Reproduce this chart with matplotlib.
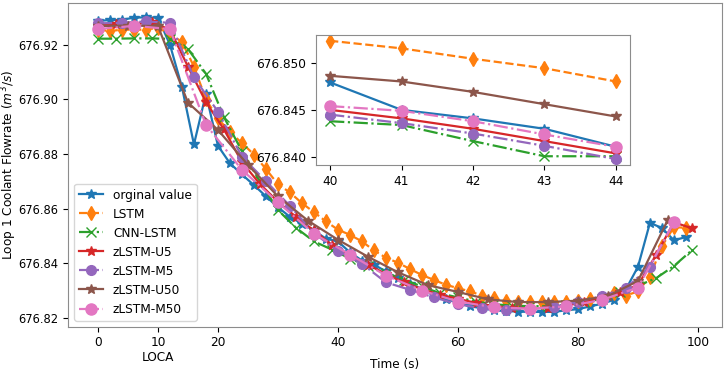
import matplotlib
matplotlib.use("Agg")
import matplotlib.pyplot as plt
from matplotlib.ticker import FormatStrFormatter

# --- main curves (each model sampled on its own time grid) ---
t_orig = list(range(0, 100, 2))
orig = [676.9287, 676.9290, 676.9291, 676.9299, 676.9300, 676.9299, 676.9200, 676.9045,
        676.8835, 676.9020, 676.8830, 676.8766, 676.8725, 676.8686, 676.8645, 676.8605,
        676.8570, 676.8545, 676.8520, 676.8490, 676.8480, 676.8440, 676.8410, 676.8395,
        676.8370, 676.8345, 676.8325, 676.8305, 676.8285, 676.8270, 676.8255, 676.8243,
        676.8235, 676.8228, 676.8225, 676.8223, 676.8222, 676.8222, 676.8222, 676.8228,
        676.8232, 676.8242, 676.8252, 676.8266, 676.8305, 676.8387, 676.8548, 676.8529,
        676.8484, 676.8496]

t_lstm = list(range(0, 100, 2))
lstm = [676.9255, 676.9250, 676.9255, 676.9255, 676.9255, 676.9262, 676.9240, 676.9210,
        676.9120, 676.9000, 676.8930, 676.8880, 676.8840, 676.8798, 676.8745, 676.8689,
        676.8659, 676.8620, 676.8587, 676.8553, 676.8523, 676.8504, 676.8480, 676.8447,
        676.8420, 676.8402, 676.8379, 676.8357, 676.8339, 676.8321, 676.8309, 676.8297,
        676.8282, 676.8272, 676.8263, 676.8260, 676.8258, 676.8258, 676.8260, 676.8260,
        676.8263, 676.8270, 676.8270, 676.8291, 676.8282, 676.8297, 676.8351, 676.8463,
        676.8532, 676.8530]

t_cnn = list(range(0, 100, 3))
cnn = [676.9222, 676.9222, 676.9223, 676.9223, 676.9221, 676.9184, 676.9094, 676.8935,
       676.8810, 676.8700, 676.8595, 676.8530, 676.8480, 676.8450, 676.8417, 676.8390,
       676.8365, 676.8340, 676.8315, 676.8290, 676.8275, 676.8260, 676.8250, 676.8245,
       676.8243, 676.8243, 676.8248, 676.8258, 676.8270, 676.8295, 676.8318, 676.8345,
       676.8390, 676.8448]

t_u5 = list(range(0, 100, 3))
u5 = [676.9270, 676.9275, 676.9275, 676.9282, 676.9255, 676.9120, 676.8990, 676.8890,
      676.8770, 676.8690, 676.8625, 676.8570, 676.8520, 676.8467, 676.8430, 676.8395,
      676.8360, 676.8330, 676.8305, 676.8285, 676.8270, 676.8255, 676.8243, 676.8237,
      676.8235, 676.8237, 676.8245, 676.8258, 676.8275, 676.8295, 676.8320, 676.8430,
      676.8550, 676.8528]

t_m5 = list(range(0, 100, 4))
m5 = [676.9278, 676.9280, 676.9285, 676.9280, 676.9080, 676.8955, 676.8790, 676.8700,
      676.8610, 676.8510, 676.8445, 676.8398, 676.8330, 676.8303, 676.8275, 676.8250,
      676.8235, 676.8230, 676.8233, 676.8240, 676.8260, 676.8280, 676.8310, 676.8387,
      676.8550]

t_u50 = list(range(0, 100, 5))
u50 = [676.9268, 676.9270, 676.9268, 676.8988, 676.8888, 676.8760, 676.8645, 676.8556,
       676.8486, 676.8424, 676.8367, 676.8320, 676.8295, 676.8268, 676.8258, 676.8258,
       676.8263, 676.8280, 676.8335, 676.8560]

t_m50 = list(range(0, 100, 6))
m50 = [676.9257, 676.9269, 676.9257, 676.8907, 676.8742, 676.8623, 676.8508, 676.8432,
       676.8355, 676.8300, 676.8260, 676.8239, 676.8234, 676.8242, 676.8266, 676.8311,
       676.8550]

# --- zoomed window 40..44 s ---
t_zoom = [40, 41, 42, 43, 44]
z_orig = [676.8479, 676.8450, 676.8441, 676.8430, 676.8411]
z_lstm = [676.8523, 676.8515, 676.8504, 676.8494, 676.8480]
z_cnn = [676.8438, 676.8434, 676.8417, 676.8401, 676.8401]
z_u5 = [676.8450, 676.8441, 676.8430, 676.8417, 676.8404]
z_m5 = [676.8445, 676.8436, 676.8425, 676.8412, 676.8398]
z_u50 = [676.8486, 676.8480, 676.8469, 676.8456, 676.8443]
z_m50 = [676.8454, 676.8449, 676.8438, 676.8424, 676.8411]

labels = ["orginal value", "LSTM", "CNN-LSTM", "zLSTM-U5", "zLSTM-M5", "zLSTM-U50", "zLSTM-M50"]
colors = ["#1f77b4", "#ff7f0e", "#2ca02c", "#d62728", "#9467bd", "#8c564b", "#e377c2"]
styles = ["-", "--", "-.", "-", "-.", "-", "-."]
markers = ["*", "d", "x", "*", "o", "*", "o"]
msizes = [7, 7, 7, 7, 7, 7, 8]

plt.rcParams["font.size"] = 8.7
SPINE = "#8c8c8c"

fig = plt.figure(figsize=(7.26, 3.75), dpi=100)
ax = fig.add_axes([0.094, 0.129, 0.900, 0.864])

main = [(t_orig, orig), (t_lstm, lstm), (t_cnn, cnn), (t_u5, u5),
        (t_m5, m5), (t_u50, u50), (t_m50, m50)]
for (t, v), lab, c, ls, mk, ms in zip(main, labels, colors, styles, markers, msizes):
    ax.plot(t, v, linestyle=ls, marker=mk, color=c, label=lab, linewidth=1.6, markersize=ms)

ax.set_xticks([0, 10, 20, 40, 60, 80, 100])
ax.set_xticklabels(["0", "10\nLOCA", "20", "40", "60", "80", "100"])
ax.yaxis.set_major_formatter(FormatStrFormatter("%.2f"))
ax.tick_params(axis="y", labelsize=8.3)
ax.set_xlabel("Time (s)")
ax.set_ylabel("Loop 1 Coolant Flowrate ($m^3/s$)")
ax.xaxis.set_label_coords(0.5, -0.098)
ax.yaxis.set_label_coords(-0.076, 0.5)
ax.legend(loc="lower left", fontsize=8.7)
for s in ax.spines.values():
    s.set_color(SPINE)

ins = fig.add_axes([0.435, 0.56, 0.433, 0.347])
zoom = [z_orig, z_lstm, z_cnn, z_u5, z_m5, z_u50, z_m50]
for v, c, ls, mk, ms in zip(zoom, colors, styles, markers, msizes):
    ins.plot(t_zoom, v, linestyle=ls, marker=mk, color=c, linewidth=1.6, markersize=ms)
ins.set_xticks(t_zoom)
ins.set_yticks([676.840, 676.845, 676.850])
ins.yaxis.set_major_formatter(FormatStrFormatter("%.3f"))
for s in ins.spines.values():
    s.set_color(SPINE)

fig.savefig("out.png", dpi=100)
